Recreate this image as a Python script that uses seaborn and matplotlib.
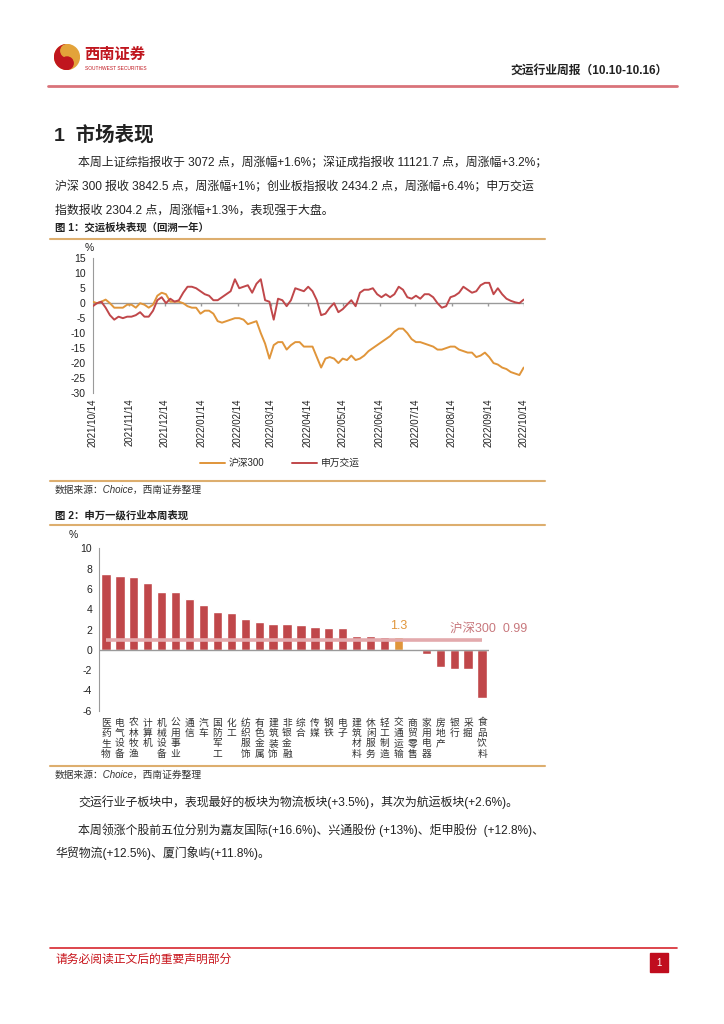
import pandas as pd
import matplotlib
matplotlib.use("Agg")
import matplotlib.pyplot as plt
from matplotlib.patches import Circle, Wedge, Rectangle
from matplotlib.lines import Line2D
import seaborn as sns

# ---- data ----
# chart 1: cumulative return (%) over the past year, evenly spaced samples
hs300 = [0.5, 0, 0.5, 1.2, 0, -1.5, -1.5, -1.5, -0.5, -0.5,
         -1.5, 0, -0.5, -1.5, -0.5, 2.5, 3.5, 3, 0.5, 0.5,
         0.5, 0, -1, -1.5, -1.5, -3.5, -2.5, -2.5, -3.5, -6,
         -6.5, -6, -5.5, -5, -5, -5.5, -7, -6.5, -6, -10,
         -13.5, -18.5, -14, -13, -13, -15.5, -14, -13, -13, -14.5,
         -14.5, -14.5, -18, -21.5, -18.5, -18, -18.5, -20, -18.5, -19,
         -17.5, -19, -18.5, -17.5, -16, -15, -14, -13, -12, -11,
         -9.5, -8.5, -8.5, -10, -12, -13, -13, -13.5, -14, -14.5,
         -15.5, -15.5, -15, -14.5, -14.5, -15.5, -16, -16.5, -16.5, -18,
         -17.5, -16.5, -18, -20, -20.5, -21.5, -22, -23, -23.5, -24,
         -21.5]
sw_transport = [-1, 0, 0.5, -1.5, -4, -5.5, -4.5, -5, -4.5, -4.5,
                -4, -3, -4.5, -4.5, -2.5, 1, 2, 0, 1.5, 0.5,
                1, 3.5, 5.5, 5.5, 5, 4, 3, 2.5, 1, 1,
                2, 3, 4, 8, 5, 5.5, 6, 3.5, 6.5, 8,
                1, 0.5, -5.5, 1.5, 1, -1, 1, 5, 4.5, 4,
                5.5, 4, 1, -4, -3.5, -1.5, 0, -3, -2, -0.5,
                1, -1, 3.5, 4.5, 4.5, 5, 3, 2, 3, 2,
                3, 5.5, 4.5, 2, 1.5, 2.5, 1.5, 3, 3, 2,
                0, -1.5, -1, 2, 2.5, 3.5, 5.5, 4.5, 3.5, 4,
                6, 6.8, 6.8, 3, 5, 3, 1.5, 0.8, 0.3, 0,
                1.2]
series_names = ["沪深300", "申万交运"]
month_ticks = pd.date_range("2021-10-14", periods=13, freq=pd.DateOffset(months=1))

# chart 2: weekly change (%) by SW level-1 industry
industries = ["医药生物", "电气设备", "农林牧渔", "计算机", "机械设备", "公用事业", "通信",
              "汽车", "国防军工", "化工", "纺织服饰", "有色金属", "建筑装饰", "非银金融",
              "综合", "传媒", "钢铁", "电子", "建筑材料", "休闲服务", "轻工制造",
              "交通运输", "商贸零售", "家用电器", "房地产", "银行", "采掘", "食品饮料"]
week_chg = [7.5, 7.3, 7.15, 6.55, 5.7, 5.65, 5.0,
            4.4, 3.7, 3.6, 3.05, 2.7, 2.5, 2.5,
            2.4, 2.25, 2.1, 2.1, 1.35, 1.35, 1.25,
            1.3, 0.02, -0.45, -1.7, -1.85, -1.85, -4.7]
hs300_week = 0.99
highlight = "交通运输"

# ---- style ----
sns.set_style("white")
plt.rcParams['font.family'] = ['Liberation Sans', 'Noto Sans CJK SC', 'DejaVu Sans']
plt.rcParams['axes.unicode_minus'] = False

W, H = 724, 1024
RED = "#C0474A"
ORANGE = "#E0953A"
GOLD = "#DDAE6E"
GRAY = "#9A9A9A"
TXT = "#222222"

fig = plt.figure(figsize=(W / 100, H / 100), dpi=100)


def ptext(x, y, s, **kw):
    kw.setdefault("va", "center")
    kw.setdefault("color", TXT)
    return fig.text(x / W, 1 - y / H, s, **kw)


def hline(y, x0, x1, color, lw):
    fig.add_artist(Line2D([x0 / W, x1 / W], [1 - y / H, 1 - y / H], color=color, lw=lw))


def add_ax(x0, y0, x1, y1):
    return fig.add_axes([x0 / W, 1 - y1 / H, (x1 - x0) / W, (y1 - y0) / H])


# ---- header ----
logo = add_ax(54, 44, 80, 70)
logo.set_aspect("equal")
logo.axis("off")
logo.add_patch(Circle((0, 0), 1, color="#E3A33A"))
logo.add_patch(Wedge((0, 0), 1, 90, 270, color="#C0161E"))
logo.add_patch(Circle((0, 0.5), 0.5, color="#E3A33A"))
logo.add_patch(Circle((0, -0.5), 0.5, color="#C0161E"))
logo.set_xlim(-1.05, 1.05)
logo.set_ylim(-1.05, 1.05)
ptext(84, 55, "西南证券", fontsize=11, fontweight="bold", color="#C0161E")
ptext(85, 68, "SOUTHWEST SECURITIES", fontsize=3.5, color="#C0161E")
ptext(668, 71, "交运行业周报（10.10-10.16）", fontsize=8.5, fontweight="bold", ha="right")
hline(86, 48, 677, "#D9737A", 2)

# ---- section text ----
ptext(54, 135, "1  市场表现", fontsize=14, fontweight="bold")
ptext(78, 163, "本周上证综指报收于 3072 点，周涨幅+1.6%；深证成指报收 11121.7 点，周涨幅+3.2%；",
      fontsize=8.6)
ptext(55, 187, "沪深 300 报收 3842.5 点，周涨幅+1%；创业板指报收 2434.2 点，周涨幅+6.4%；申万交运",
      fontsize=8.6)
ptext(55, 211, "指数报收 2304.2 点，周涨幅+1.3%，表现强于大盘。", fontsize=8.6)

# ---- figure 1 ----
ptext(55, 228, "图 1：交运板块表现（回溯一年）", fontsize=7.5, fontweight="bold")
hline(239, 50, 545, GOLD, 1.5)

dates = pd.date_range("2021-10-14", "2022-10-14", periods=len(hs300))
df1 = pd.concat([
    pd.DataFrame({"date": dates, "value": hs300, "series": series_names[0]}),
    pd.DataFrame({"date": dates, "value": sw_transport, "series": series_names[1]}),
])

ax1 = add_ax(92.7, 258.3, 523.7, 393)
ax1.axhline(0, color=GRAY, lw=1, zorder=1)
ax1.vlines(month_ticks, -0.9, 0, color=GRAY, lw=1, zorder=1)
sns.lineplot(data=df1, x="date", y="value", hue="series", hue_order=series_names,
             palette={series_names[0]: ORANGE, series_names[1]: RED},
             lw=1.4, legend=False, ax=ax1, zorder=3)
ax1.set_ylim(-30, 15)
ax1.set_xlim(month_ticks[0], month_ticks[-1])
ax1.set_yticks(range(-30, 16, 5))
ax1.set_xticks(month_ticks)
ax1.set_xticklabels([d.strftime("%Y/%m/%d") for d in month_ticks], rotation=90, fontsize=7, color=TXT)
ax1.tick_params(axis="x", length=0, pad=4)
ax1.tick_params(axis="y", length=3, width=1, color=GRAY, direction="out", labelsize=7.5,
                labelcolor=TXT, pad=2)
for s in ["top", "right", "bottom"]:
    ax1.spines[s].set_visible(False)
ax1.spines["left"].set_color(GRAY)
ax1.set_xlabel("")
ax1.set_ylabel("")
ptext(89, 248, "%", fontsize=7.5, ha="center")

handles = [Line2D([], [], color=ORANGE, lw=1.4), Line2D([], [], color=RED, lw=1.4)]
fig.legend(handles, series_names, loc="center", bbox_to_anchor=(280 / W, 1 - 463 / H),
           ncol=2, frameon=False, fontsize=7, handlelength=2.6, columnspacing=2.8,
           handletextpad=0.4)

hline(481, 50, 545, GOLD, 1.5)
ptext(55, 490, "数据来源：Choice，西南证券整理", fontsize=7, style="italic", color="#333333")

# ---- figure 2 ----
ptext(55, 515, "图 2：申万一级行业本周表现", fontsize=7.5, fontweight="bold")
hline(525, 50, 545, GOLD, 1.5)

df2 = pd.DataFrame({"industry": industries, "value": week_chg,
                    "grp": ["hl" if n == highlight else "other" for n in industries]})
ax2 = add_ax(99, 548.3, 489, 710.7)
sns.barplot(data=df2, x="industry", y="value", hue="grp", palette={"other": RED, "hl": ORANGE},
            dodge=False, width=0.67, saturation=1, legend=False, ax=ax2, zorder=2)
ax2.axhline(0, color=GRAY, lw=1, zorder=3)
ax2.hlines(hs300_week, 0, len(industries) - 1, color="#E3AAAD", lw=2.6, zorder=4)
hl_idx = industries.index(highlight)
ax2.text(hl_idx, week_chg[hl_idx] + 0.5, f"{week_chg[hl_idx]:.1f}", color=ORANGE,
         ha="center", va="bottom", fontsize=9)
ax2.text(24.7, 2.1, f"沪深300  {hs300_week:.2f}", color="#C8787D", ha="left", va="center",
         fontsize=9)
ax2.set_ylim(-6, 10)
ax2.set_xlim(-0.5, len(industries) - 0.5)
ax2.set_yticks(range(-6, 11, 2))
ax2.set_xticks(range(len(industries)))
ax2.set_xticklabels(["\n".join(n) for n in industries], fontsize=7, color="#333333",
                    linespacing=1.05, va="top")
ax2.tick_params(axis="x", length=0, pad=5)
ax2.tick_params(axis="y", length=3, width=1, color=GRAY, direction="out", labelsize=7.5,
                labelcolor=TXT, pad=2)
for s in ["top", "right", "bottom"]:
    ax2.spines[s].set_visible(False)
ax2.spines["left"].set_color(GRAY)
ax2.set_xlabel("")
ax2.set_ylabel("")
ptext(73, 535, "%", fontsize=7.5, ha="center")

hline(766, 50, 545, GOLD, 1.5)
ptext(55, 775, "数据来源：Choice，西南证券整理", fontsize=7, style="italic", color="#333333")

# ---- closing text ----
ptext(78, 802, "交运行业子板块中，表现最好的板块为物流板块(+3.5%)，其次为航运板块(+2.6%)。",
      fontsize=8.6)
ptext(78, 830, "本周领涨个股前五位分别为嘉友国际(+16.6%)、兴通股份 (+13%)、炬申股份  (+12.8%)、",
      fontsize=8.6)
ptext(55, 853, "华贸物流(+12.5%)、厦门象屿(+11.8%)。", fontsize=8.6)

# ---- footer ----
hline(948, 50, 677, "#D7262E", 1.2)
ptext(55, 960, "请务必阅读正文后的重要声明部分", fontsize=8.5, color="#C8161D")
fig.add_artist(Rectangle((650 / W, 1 - 972 / H), 18 / W, 19 / H, color="#C00D1E"))
ptext(659, 962.5, "1", fontsize=7, color="white", ha="center")

fig.savefig("out.png", dpi=100)
